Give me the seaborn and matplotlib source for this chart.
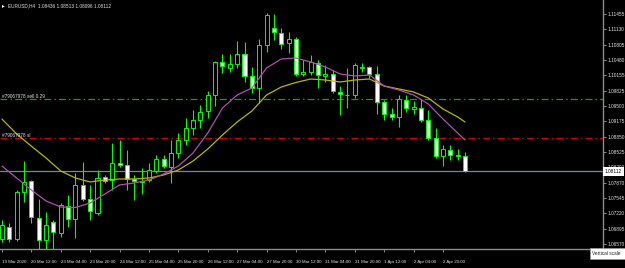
import numpy as np
import pandas as pd
import matplotlib
matplotlib.use("Agg")
import matplotlib.pyplot as plt
import matplotlib.transforms as mtransforms
from matplotlib.patches import Rectangle
import seaborn as sns

# ---------------- data ----------------
symbol_header = "EURUSD,H4  1.08436 1.08513 1.08096 1.08112"

opens = [1.06676, 1.06931, 1.06676, 1.07674, 1.07908, 1.07122, 1.06654, 1.07037, 1.06803, 1.07377,
         1.07100, 1.07823, 1.07525, 1.07228, 1.07993, 1.07929, 1.08290, 1.08247, 1.07950, 1.07886,
         1.07929, 1.08120, 1.08375, 1.08205, 1.08502, 1.08778, 1.09033, 1.09203, 1.09394, 1.09734,
         1.10435, 1.10308, 1.10393, 1.10605, 1.10138, 1.09883, 1.10796, 1.11157, 1.11051, 1.10839,
         1.10924, 1.10180, 1.10223, 1.10414, 1.10138, 1.10180, 1.09798, 1.09725, 1.09734, 1.10308,
         1.10329, 1.10180, 1.09586, 1.09331, 1.09267, 1.09628, 1.09437, 1.09458, 1.09203, 1.08821,
         1.08439, 1.08566, 1.08439, 1.08436]
highs = [1.07079, 1.07015, 1.07716, 1.08332, 1.07929, 1.07525, 1.07249, 1.07079, 1.07440, 1.07610,
         1.08077, 1.08311, 1.07823, 1.08141, 1.08035, 1.08715, 1.08778, 1.08566, 1.08035, 1.08184,
         1.08290, 1.08460, 1.08460, 1.08778, 1.08927, 1.09246, 1.09416, 1.09522, 1.09819, 1.10456,
         1.10605, 1.10605, 1.10881, 1.10860, 1.10329, 1.10924, 1.11476, 1.11455, 1.11157, 1.11072,
         1.10966, 1.10478, 1.10584, 1.10478, 1.10371, 1.10265, 1.09925, 1.10308, 1.10414, 1.10414,
         1.10350, 1.10350, 1.09628, 1.09458, 1.09734, 1.09734, 1.09607, 1.09649, 1.09416, 1.09033,
         1.08672, 1.08672, 1.08587, 1.08513]
lows = [1.06612, 1.06612, 1.06633, 1.07462, 1.07015, 1.06442, 1.06400, 1.06442, 1.06718, 1.06931,
        1.06697, 1.07483, 1.07079, 1.07185, 1.07865, 1.07716, 1.08205, 1.07716, 1.07504, 1.07631,
        1.07886, 1.08077, 1.08184, 1.07865, 1.08396, 1.08672, 1.08885, 1.09033, 1.09246, 1.09501,
        1.10201, 1.10223, 1.10308, 1.10010, 1.09777, 1.09564, 1.10648, 1.10902, 1.10711, 1.10626,
        1.10138, 1.10138, 1.10159, 1.09883, 1.10010, 1.09777, 1.09309, 1.09458, 1.09670, 1.10223,
        1.10095, 1.09331, 1.09203, 1.09203, 1.09055, 1.09373, 1.09331, 1.09161, 1.08778, 1.08396,
        1.08226, 1.08354, 1.08354, 1.08096]
closes = [1.06973, 1.06676, 1.07674, 1.07886, 1.07143, 1.06654, 1.06973, 1.06824, 1.07398, 1.07100,
          1.07823, 1.07525, 1.07270, 1.07971, 1.07908, 1.08290, 1.08247, 1.07950, 1.07908, 1.07908,
          1.08141, 1.08375, 1.08226, 1.08502, 1.08778, 1.09033, 1.09203, 1.09373, 1.09734, 1.10435,
          1.10350, 1.10393, 1.10605, 1.10138, 1.09883, 1.10796, 1.11433, 1.11072, 1.10817, 1.10924,
          1.10180, 1.10223, 1.10435, 1.10159, 1.10180, 1.09819, 1.09755, 1.09734, 1.10371, 1.10329,
          1.10180, 1.09586, 1.09331, 1.09267, 1.09649, 1.09458, 1.09479, 1.09203, 1.08821, 1.08439,
          1.08587, 1.08460, 1.08460, 1.08112]

ma_bars = [0, 2, 4, 6, 8, 10, 12, 14, 16, 18, 20, 22, 24, 26, 28, 30, 32, 34, 36, 38,
           40, 42, 44, 46, 48, 50, 52, 54, 56, 58, 60, 62, 63]
ma_fast = [1.08226, 1.07971, 1.07716, 1.07483, 1.07355, 1.07345, 1.07440, 1.07631, 1.07823, 1.07865,
           1.07929, 1.08056, 1.08226, 1.08502, 1.08927, 1.09458, 1.09734, 1.09883, 1.10308, 1.10499,
           1.10520, 1.10435, 1.10329, 1.10180, 1.10138, 1.10159, 1.09925, 1.09840, 1.09734, 1.09543,
           1.09224, 1.08927, 1.08778]
ma_slow = [1.09224, 1.08906, 1.08648, 1.08396, 1.08120, 1.07971, 1.07886, 1.07929, 1.07950, 1.07950,
           1.07971, 1.08035, 1.08141, 1.08332, 1.08587, 1.08885, 1.09161, 1.09394, 1.09734, 1.09904,
           1.10000, 1.10074, 1.10053, 1.10010, 1.10053, 1.10074, 1.09925, 1.09862, 1.09798, 1.09670,
           1.09437, 1.09267, 1.09161]

tick_bars = [0, 4, 8, 12, 16, 20, 24, 28, 32, 36, 40, 44, 48, 52, 56, 60]
tick_labels = ["19 Mar 2020", "20 Mar 12:00", "23 Mar 04:00", "23 Mar 20:00", "24 Mar 12:00",
               "25 Mar 04:00", "25 Mar 20:00", "26 Mar 12:00", "27 Mar 04:00", "27 Mar 20:00",
               "30 Mar 12:00", "31 Mar 04:00", "31 Mar 20:00", "1 Apr 12:00", "2 Apr 04:00",
               "2 Apr 20:00"]
price_ticks = [1.11455, 1.11130, 1.10805, 1.10480, 1.10155, 1.09825, 1.09500, 1.09175,
               1.08850, 1.08525, 1.08200, 1.07870, 1.07545, 1.07220, 1.06895, 1.06570]

order_entry = 1.09649
order_sl = 1.08831
entry_label = "#79067978 sell 0.29"
sl_label = "#79067978 sl"
tooltip_text = "Vertical scale"

# ---------------- style ----------------
sns.set_theme(style="dark", rc={"axes.facecolor": "black", "figure.facecolor": "black"})
plt.rcParams["font.family"] = ["Liberation Sans", "DejaVu Sans"]

W, H = 625, 268
fig = plt.figure(figsize=(W / 100, H / 100), dpi=100, facecolor="black")
ax = fig.add_axes([0, 1 - 249 / H, 603 / W, 249 / H])
ax.set_facecolor("black")

LIME = "#00ff00"
TXT = "#e2e2e2"
FS = 3.4
FSX = 3.15

bars = np.arange(len(opens))
o = np.array(opens)
c = np.array(closes)
up = c >= o

# reference lines
dash = (0, (5.5, 2.5, 1.2, 2.5))
ax.axhline(order_entry, color="#1c9c1c", lw=0.9, ls=dash, zorder=1)
ax.axhline(order_sl, color="#d40000", lw=0.9, ls=dash, zorder=1)
ax.axhline(closes[-1], color="#778899", lw=0.9, zorder=1)

# candles
ax.vlines(bars, lows, highs, color=LIME, lw=0.8, zorder=3)
ax.bar(bars, np.abs(c - o), bottom=np.minimum(o, c), width=0.55,
       color=np.where(up, "black", "white"), edgecolor=LIME, linewidth=0.7, zorder=4)

# moving averages
df = pd.DataFrame({"bar": ma_bars, "fast": ma_fast, "slow": ma_slow})
sns.lineplot(data=df, x="bar", y="slow", color="#b8b800", lw=0.9, ax=ax, zorder=5)
sns.lineplot(data=df, x="bar", y="fast", color="#b050b0", lw=0.9, ax=ax, zorder=5)

ax.set_xlim(-0.265, 81.77)
ax.set_ylim(1.06463, 1.11752)
ax.set_xlabel("")
ax.set_ylabel("")
ax.grid(False)

# axes / ticks
for s in ["top", "left"]:
    ax.spines[s].set_visible(False)
for s in ["right", "bottom"]:
    ax.spines[s].set_visible(True)
    ax.spines[s].set_color("#8c8c8c")
    ax.spines[s].set_linewidth(1.0)

ax.yaxis.tick_right()
ax.set_yticks(price_ticks)
ax.set_yticklabels([f"{p:.5f}" for p in price_ticks])
ax.tick_params(axis="y", which="both", right=True, left=False, color="#a0a0a0",
               labelcolor=TXT, length=2, width=0.6, pad=1, labelsize=FS)
ax.set_xticks(tick_bars)
ax.set_xticklabels(tick_labels, ha="left")
ax.tick_params(axis="x", bottom=True, color="#a0a0a0", labelcolor=TXT,
               length=2.5, width=0.6, pad=5.5, labelsize=FSX)

# order labels
tr = mtransforms.blended_transform_factory(ax.transAxes, ax.transData)
ax.text(0.004, order_entry, entry_label, transform=tr, fontsize=FS, color=TXT,
        va="bottom", ha="left", zorder=6)
ax.text(0.004, order_sl, sl_label, transform=tr, fontsize=FS, color=TXT,
        va="bottom", ha="left", zorder=6)

# current price box
tr2 = mtransforms.blended_transform_factory(fig.transFigure, ax.transData)
ax.text(605 / W, closes[-1], f"{closes[-1]:.5f}", transform=tr2, fontsize=FS, color="black",
        va="center", ha="left", zorder=10, clip_on=False,
        bbox=dict(boxstyle="square,pad=0.35", facecolor="white", edgecolor="white", lw=0))

# header
fig.text(2 / W, 1 - 6 / H, "\u25b8", fontsize=4, color="white", va="center", ha="left")
fig.text(8 / W, 1 - 6 / H, symbol_header, fontsize=FS, color=TXT, va="center", ha="left")

# tooltip
fig.patches.append(Rectangle((590 / W, 1 - 259 / H), 35 / W, 11 / H, transform=fig.transFigure,
                             facecolor="white", edgecolor="#9a9a9a", lw=0.5, zorder=20))
fig.text(592 / W, 1 - 253.5 / H, tooltip_text, fontsize=FS, color="#202020",
         va="center", ha="left", zorder=21)

fig.savefig("out.png", dpi=100, facecolor="black")
